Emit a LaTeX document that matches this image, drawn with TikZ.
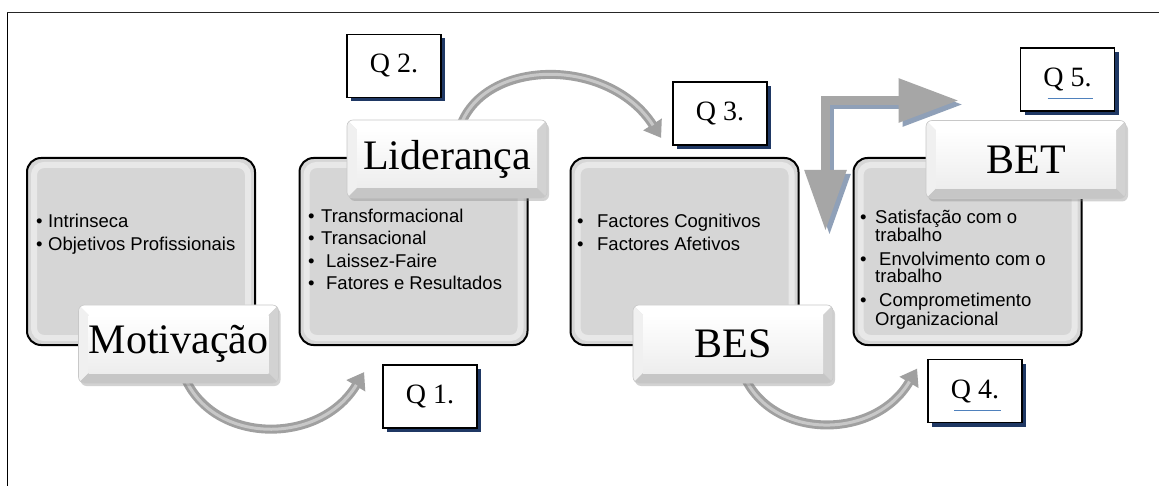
\documentclass[tikz,border=0pt]{standalone}
\usepackage{fontspec}
\setmainfont{Liberation Serif}
\newfontfamily\arialfont{Liberation Sans}
\usetikzlibrary{arrows.meta,shadows,calc}
\definecolor{boxgray}{RGB}{214,214,214}
\definecolor{arrowgray}{RGB}{160,160,160}
\definecolor{arrowlight}{RGB}{200,200,200}
\definecolor{qshadow}{RGB}{31,56,100}
\definecolor{bentshadow}{RGB}{143,160,184}
\definecolor{bentgray}{RGB}{166,166,166}
\definecolor{ulblue}{RGB}{79,129,189}
\definecolor{rimgray}{RGB}{200,200,200}
\tikzset{
  bigbox/.style={draw=black, line width=2pt, rounded corners=14pt, fill=boxgray,
    minimum width=228pt, minimum height=187pt, inner sep=0pt,
    path picture={\draw[white, opacity=0.45, line width=6pt, rounded corners=10pt]
      ([shift={(7pt,-7pt)}]path picture bounding box.north west) rectangle
      ([shift={(-7pt,7pt)}]path picture bounding box.south east);}},
  labelbox/.style={minimum width=200pt, minimum height=78pt, inner sep=0pt,
    rounded corners=6pt, draw=rimgray, line width=0.6pt,
    font=\fontsize{42}{42}\selectfont,
    drop shadow={shadow xshift=2pt, shadow yshift=-3pt, opacity=0.35},
    path picture={
      \fill[sharp corners, gray!25] (path picture bounding box.south west) rectangle (path picture bounding box.north east);
      \fill[sharp corners, white] (path picture bounding box.north west) -- (path picture bounding box.north east)
        -- ([shift={(-10pt,-10pt)}]path picture bounding box.north east) -- ([shift={(10pt,-10pt)}]path picture bounding box.north west) -- cycle;
      \fill[sharp corners, gray!12] (path picture bounding box.north west) -- ([shift={(10pt,-10pt)}]path picture bounding box.north west)
        -- ([shift={(10pt,10pt)}]path picture bounding box.south west) -- (path picture bounding box.south west) -- cycle;
      \fill[sharp corners, gray!35] (path picture bounding box.north east) -- ([shift={(-10pt,-10pt)}]path picture bounding box.north east)
        -- ([shift={(-10pt,10pt)}]path picture bounding box.south east) -- (path picture bounding box.south east) -- cycle;
      \fill[sharp corners, gray!45] (path picture bounding box.south west) -- ([shift={(10pt,10pt)}]path picture bounding box.south west)
        -- ([shift={(-10pt,10pt)}]path picture bounding box.south east) -- (path picture bounding box.south east) -- cycle;
      \shade[sharp corners, top color=white, bottom color=gray!14]
        ([shift={(10pt,-10pt)}]path picture bounding box.north west) rectangle ([shift={(-10pt,10pt)}]path picture bounding box.south east);
    }},
  qbox/.style={draw=black, line width=1.8pt, fill=white, minimum width=94pt, minimum height=63pt,
    inner sep=0pt, font=\fontsize{28}{28}\selectfont,
    general shadow={fill=qshadow, shadow xshift=4pt, shadow yshift=-4pt}},
  bt/.style={anchor=base west, inner sep=0pt, font=\arialfont\fontsize{18.5}{22}\selectfont},
  curvearrow/.style={line width=9pt, draw=arrowgray, -{Triangle[width=21pt,length=16pt]},
    postaction={draw=arrowlight, line width=3pt, -, shorten >=15pt, shorten <=1pt}},
  bent/.style={line width=9pt, {Triangle[width=40pt,length=61pt]}-{Triangle[width=42pt,length=60pt]}},
  ul/.style={draw=ulblue, line width=1pt}
}
\begin{document}
\begin{tikzpicture}[x=1pt,y=-1pt]
\fill[white] (0,0) rectangle (1159,486);
\useasboundingbox (0,0) rectangle (1159,486);
% frame
\draw[line width=1.6pt] (7.5,486) -- (7.5,12.5);
\draw[line width=1pt, black!85] (7,12.5) -- (1159,12.5);

% big boxes
\node[bigbox] (b1) at (141,251.5) {};
\node[bigbox] (b2) at (413.5,251.5) {};
\node[bigbox] (b3) at (684.5,251.5) {};
\node[bigbox] (b4) at (967.5,251.5) {};

% Q boxes
\node[qbox] (q2) at (394,66) {Q 2.};
\node[qbox] (q3) at (720,113.5) {Q 3.};
\node[qbox] (q1) at (430,396.5) {Q 1.};
\node[qbox] (q4) at (975,391) {Q 4.};
\node[qbox] (q5) at (1067.5,79.5) {Q 5.};
\draw[ul] ([shift={(-21pt,-19pt)}]q4.center) -- ([shift={(26pt,-19pt)}]q4.center);
\draw[ul] ([shift={(-20pt,-19.5pt)}]q5.center) -- ([shift={(25.5pt,-19.5pt)}]q5.center);

% label anchor coordinates for arrows
\coordinate (mots) at (178.5,383);
\coordinate (lidn) at (447,120);
\coordinate (bess) at (733,383);

% curved arrows
\draw[curvearrow] ([shift={(6.5pt,5pt)}]mots) .. controls (215,445) and (320,445) .. ([shift={(-18pt,-8pt)}]q1.north west);
\draw[curvearrow] ([shift={(15pt,-2pt)}]lidn) .. controls (490,58) and (610,58) .. ([shift={(-11pt,8pt)}]q3.south west);
\draw[curvearrow] ([shift={(12pt,5pt)}]bess) .. controls (775,440) and (875,440) .. ([shift={(-10pt,-10pt)}]q4.north west);

% label boxes
\node[labelbox] (mot) at (178.5,344) {Motivação};
\node[labelbox] (lid) at (447,159) {Liderança};
\node[labelbox] (bes) at (733,344) {BES};
\node[labelbox] (bet) at (1026,159.5) {BET};

% bent arrow
\coordinate (bdn) at ([shift={(26pt,-74pt)}]b3.north east);
\coordinate (brt) at ([shift={(-61pt,-21pt)}]q5.west);
\draw[bent, draw=bentshadow] ([shift={(4pt,-4pt)}]bdn) |- ([shift={(4pt,-4pt)}]brt);
\draw[bent, draw=bentgray] (bdn) |- (brt);

% texts
\node[bt] (t1a) at (36,228) {\makebox[12pt][l]{•}Intrinseca};
\node[bt] (t1b) at (36,251) {\makebox[12pt][l]{•}Objetivos Profissionais};

\node[bt] (t2a) at (308,223) {\makebox[13pt][l]{•}Transformacional};
\node[bt] (t2b) at (308,245) {\makebox[13pt][l]{•}Transacional};
\node[bt] (t2c) at (308,268) {\makebox[18pt][l]{•}Laissez-Faire};
\node[bt] (t2d) at (308,290) {\makebox[18pt][l]{•}Fatores e Resultados};

\node[bt] (t3a) at (577,228) {\makebox[20pt][l]{•}Factores Cognitivos};
\node[bt] (t3b) at (577,251) {\makebox[20pt][l]{•}Factores Afetivos};

\node[bt] (t4a) at (860,224) {\makebox[15pt][l]{•}Satisfação com o};
\node[bt] (t4b) at (875,242) {trabalho};
\node[bt] (t4c) at (860,266) {\makebox[19pt][l]{•}Envolvimento com o};
\node[bt] (t4d) at (875,283) {trabalho};
\node[bt] (t4e) at (860,307) {\makebox[19pt][l]{•}Comprometimento};
\node[bt] (t4f) at (875,325) {Organizacional};
\end{tikzpicture}
\end{document}
